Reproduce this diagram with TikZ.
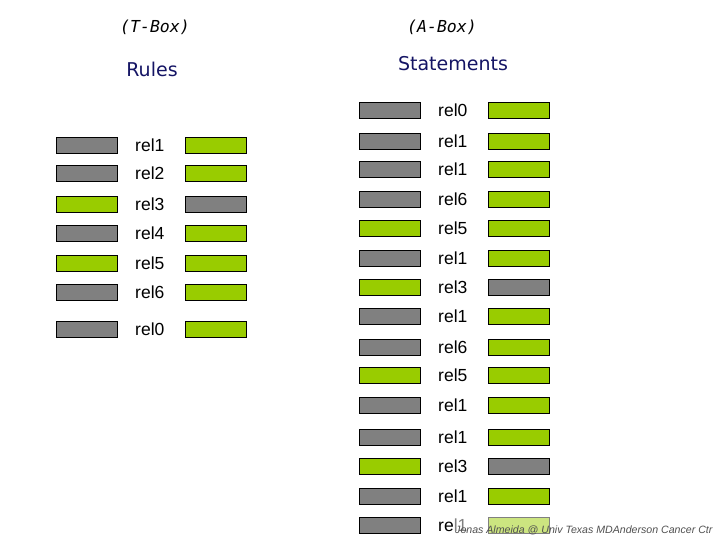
\documentclass[tikz,border=0pt]{standalone}
\usepackage{fontspec}
\setmainfont{Liberation Sans}
\newfontfamily\verd{DejaVu Sans}
\newfontfamily\verdmono{DejaVu Sans Mono}
\definecolor{bgray}{HTML}{808080}
\definecolor{bgreen}{HTML}{99CC00}
\definecolor{navy}{RGB}{20,20,100}
\definecolor{foot}{HTML}{505050}
\begin{document}
\begin{tikzpicture}[x=1pt,y=-1pt,
  bar/.style={draw=black,line width=0.8pt,minimum width=61pt,minimum height=16pt,inner sep=0pt},
  gbar/.style={bar,fill=bgray},
  vbar/.style={bar,fill=bgreen},
  lab/.style={anchor=west,inner sep=0pt,font=\fontsize{17.5}{17.5}\selectfont},
  hdr/.style={inner sep=0pt,font=\verdmono\itshape\fontsize{16.5}{16.5}\selectfont},
  ttl/.style={inner sep=0pt,text=navy,font=\verd\fontsize{19}{19}\selectfont}]
\useasboundingbox (0,0) rectangle (720,540);
\node[hdr] (th) at (155,27) {(T-Box)};
\node[hdr] (ah) at (442,27) {(A-Box)};
\node[ttl] (rt) at (152,69) {Rules};
\node[ttl] (st) at (453,64) {Statements};
% left column
\foreach \y/\t/\a/\b [count=\i] in {145/rel1/gbar/vbar,173/rel2/gbar/vbar,204/rel3/vbar/gbar,233/rel4/gbar/vbar,263/rel5/vbar/vbar,292/rel6/gbar/vbar,329/rel0/gbar/vbar}{
  \node[\a] (la\i) at (86.5,\y) {};
  \node[lab] (lt\i) at (135,\y) {\t};
  \node[\b] (lb\i) at (215.5,\y) {};
}
% right column
\foreach \y/\t/\a/\b [count=\i] in {110/rel0/gbar/vbar,141/rel1/gbar/vbar,169/rel1/gbar/vbar,199/rel6/gbar/vbar,228/rel5/vbar/vbar,258/rel1/gbar/vbar,287/rel3/vbar/gbar,316/rel1/gbar/vbar,347/rel6/gbar/vbar,375/rel5/vbar/vbar,405/rel1/gbar/vbar,437/rel1/gbar/vbar,466/rel3/vbar/gbar,496/rel1/gbar/vbar,525/rel1/gbar/vbar}{
  \node[\a] (ra\i) at (390,\y) {};
  \node[lab] (rt\i) at (438,\y) {\t};
  \node[\b] (rb\i) at (519,\y) {};
}
\fill[white,opacity=0.5] (453,514) rectangle (720,540);
\node[anchor=west,inner sep=0pt,text=foot,font=\itshape\fontsize{10.6}{10.6}\selectfont] (ft) at (455,530) {Jonas Almeida @ Univ Texas MDAnderson Cancer Ctr};
\end{tikzpicture}
\end{document}
